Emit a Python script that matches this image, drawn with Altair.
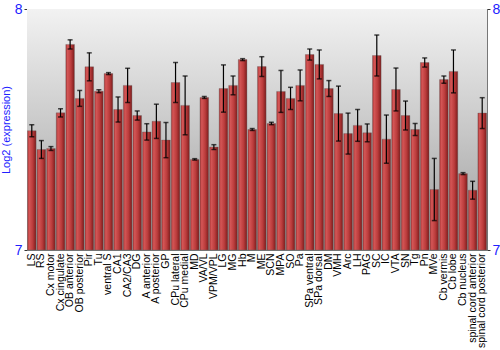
import altair as alt
import pandas as pd

regions = ["LS", "RS", "Cx motor", "Cx cingulate", "OB anterior", "OB posterior", "Pir", "Tu",
           "ventral S", "CA1", "CA2/CA3", "DG", "A anterior", "A posterior", "GP", "CPu lateral",
           "CPu medial", "MD", "VA/VL", "VPM/VPL", "LG", "MG", "Hb", "M", "ME", "SCN", "MPA", "SO",
           "Pa", "SPa ventral", "SPa dorsal", "DM", "VMH", "Arc", "LH", "PAG", "SC", "IC", "VTA",
           "SN", "Tg", "Pn", "MVe", "Cb vermis", "Cb lobe", "Cb nucleus", "spinal cord anterior",
           "spinal cord posterior"]
values = [7.495, 7.417, 7.421, 7.569, 7.853, 7.629, 7.760, 7.659,
          7.732, 7.583, 7.683, 7.558, 7.490, 7.534, 7.456, 7.695,
          7.600, 7.376, 7.633, 7.427, 7.670, 7.683, 7.790, 7.500, 7.761, 7.525, 7.658, 7.629,
          7.683, 7.811, 7.770, 7.670, 7.566, 7.483, 7.517, 7.486, 7.807, 7.460, 7.666,
          7.558, 7.500, 7.778, 7.251, 7.707, 7.741, 7.317, 7.248,
          7.568]
errors = [0.025, 0.037, 0.008, 0.017, 0.019, 0.033, 0.058, 0.006,
          0.004, 0.052, 0.071, 0.019, 0.034, 0.071, 0.073, 0.083,
          0.122, 0.003, 0.004, 0.010, 0.098, 0.039, 0.004, 0.004, 0.041, 0.005, 0.087, 0.046,
          0.064, 0.023, 0.060, 0.033, 0.114, 0.085, 0.066, 0.037, 0.085, 0.100, 0.089,
          0.060, 0.025, 0.019, 0.129, 0.015, 0.089, 0.004, 0.037,
          0.064]

df = pd.DataFrame({"region": regions, "value": values, "err": errors})
df["lo"] = df["value"] - df["err"]
df["hi"] = df["value"] + df["err"]

W, H = 460, 241
blue = "#2020ff"

bg = alt.Chart(df).mark_rect(
    color=alt.Gradient(gradient="linear",
                       stops=[alt.GradientStop(color="#f2f2f2", offset=0),
                              alt.GradientStop(color="#c8c8c8", offset=0.5),
                              alt.GradientStop(color="#9c9c9c", offset=1)],
                       x1=0, x2=0, y1=0, y2=1)
).encode(x=alt.value(0), x2=alt.value(W), y=alt.value(0), y2=alt.value(H))

xenc = alt.X("region:N", sort=regions,
             scale=alt.Scale(paddingInner=0.1, paddingOuter=0.05),
             axis=alt.Axis(title=None, labelAngle=-90, labelColor="black", labelFontSize=10.5,
                           labelFont="Liberation Sans", ticks=False, domain=False,
                           labelPadding=3, labelLimit=200))
yscale = alt.Scale(domain=[7, 8], nice=False, clamp=True)

bars = alt.Chart(df).mark_bar(
    color=alt.Gradient(gradient="linear",
                       stops=[alt.GradientStop(color="#a83030", offset=0),
                              alt.GradientStop(color="#d45656", offset=0.2),
                              alt.GradientStop(color="#bb3c3c", offset=0.6),
                              alt.GradientStop(color="#7c1c1c", offset=1)],
                       x1=0, x2=1, y1=0, y2=0),
    stroke="#606060", strokeOpacity=0.35, strokeWidth=1
).encode(
    x=xenc,
    y=alt.Y("value:Q", scale=yscale,
            axis=alt.Axis(title="Log2 (expression)", values=[7, 8], format="d", titleColor=blue,
                          titleFont="Liberation Sans", titleFontSize=11, titleFontWeight="normal",
                          labelColor=blue, labelFont="Liberation Sans", labelFontSize=14,
                          labelFlush=False, grid=False, domainColor="#777777", tickColor="#333333",
                          tickSize=3, labelPadding=2, titlePadding=3, orient="left")),
    y2=alt.value(H)
)

err_rule = alt.Chart(df).mark_rule(color="black", strokeWidth=1.2).encode(
    x=alt.X("region:N", sort=regions), y=alt.Y("lo:Q", scale=yscale, axis=None), y2="hi:Q")
cap_lo = alt.Chart(df).mark_tick(color="black", thickness=1.5, size=5).encode(
    x=alt.X("region:N", sort=regions), y=alt.Y("lo:Q", scale=yscale, axis=None))
cap_hi = alt.Chart(df).mark_tick(color="black", thickness=1.5, size=5).encode(
    x=alt.X("region:N", sort=regions), y=alt.Y("hi:Q", scale=yscale, axis=None))

right_axis = alt.Chart(df).mark_point(opacity=0).encode(
    x=alt.X("region:N", sort=regions),
    y=alt.Y("value:Q", scale=yscale,
            axis=alt.Axis(title=None, values=[7, 8], format="d", orient="right", labelColor=blue,
                          labelFont="Liberation Sans", labelFontSize=14, labelFlush=False,
                          grid=False, domainColor="#777777", tickColor="#333333", tickSize=3,
                          labelPadding=2))
)

chart = alt.layer(bg, bars, err_rule, cap_lo, cap_hi, right_axis).resolve_axis(
    y="independent"
).properties(
    width=W, height=H,
    autosize=alt.AutoSizeParams(type="none"),
    padding={"left": 27, "top": 9, "right": 13, "bottom": 100},
    background="white"
).configure_view(stroke="#777777", strokeWidth=1)

chart.save("out.html", embed_options={"renderer": "svg", "actions": False})
